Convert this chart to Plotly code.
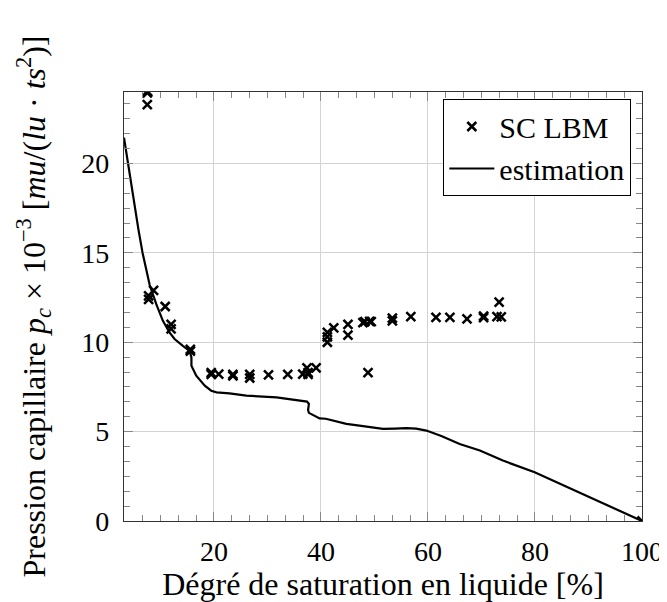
import plotly.graph_objects as go

# SC LBM simulation points
lbm_x = [7.55, 7.55, 7.6, 7.55, 7.8, 7.8, 8.73, 10.9, 12.0, 12.0, 15.6, 15.6,
         19.5, 19.5, 20.9, 23.55, 23.55, 26.7, 26.7, 30.2, 33.8, 36.6, 37.4, 37.6, 37.6, 39.1,
         41.2, 41.2, 41.2, 42.4, 45.05, 45.05, 47.85, 48.2, 49.1, 49.4, 48.8,
         53.35, 53.35, 56.8, 61.5, 64.1, 67.3, 70.4, 70.4, 72.9, 73.7, 73.3, 100.0]
lbm_y = [23.95, 24.05, 24.0, 23.3, 12.4, 12.6, 12.9, 12.0, 11.0, 10.75, 9.5, 9.6,
         8.2, 8.3, 8.22, 8.12, 8.2, 8.0, 8.2, 8.17, 8.2, 8.22, 8.56, 8.2, 8.3, 8.56,
         10.0, 10.3, 10.55, 10.8, 11.0, 10.4, 11.1, 11.15, 11.17, 11.15, 8.3,
         11.2, 11.35, 11.44, 11.39, 11.39, 11.31, 11.38, 11.46, 11.44, 11.42, 12.25, 0.0]

# Estimation curve
est_x = [3.2, 4.2, 5.0, 5.9, 6.67, 7.4, 8.0, 9.23, 10.47, 11.7, 12.65, 14.2, 15.46, 15.8,
         15.8, 16.7, 17.3, 18.3, 19.5, 20.5, 22.9, 26.06, 31.7, 34.2, 36.7, 37.4, 37.75,
         37.6, 37.75, 38.2, 39.76, 40.9, 44.75, 46.5, 50.97, 51.6, 53.8, 55.96, 57.8, 59.7,
         62.5, 65.93, 69.7, 74.0, 79.94, 90.0, 100.0]
est_y = [21.44, 19.5, 17.9, 16.3, 15.0, 13.9, 13.2, 12.13, 11.2, 10.55, 10.18, 9.8, 9.52, 9.15,
         8.69, 8.13, 7.9, 7.57, 7.29, 7.2, 7.14, 7.01, 6.92, 6.83, 6.73, 6.68, 6.55,
         6.21, 6.05, 5.99, 5.74, 5.72, 5.43, 5.36, 5.18, 5.15, 5.17, 5.2, 5.17, 5.06,
         4.75, 4.31, 3.94, 3.38, 2.73, 1.37, 0.0]

x_ticks = [20, 40, 60, 80, 100]
y_ticks = [0, 5, 10, 15, 20]

FONT = "Liberation Serif, DejaVu Serif, serif"
TICK_FS = 28
TITLE_FS = 32
LEG_FS = 30

fig = go.Figure()
fig.add_trace(go.Scatter(
    x=lbm_x, y=lbm_y, mode="markers", name="SC LBM",
    marker=dict(symbol="x-thin", size=9, color="black",
                line=dict(width=2.5, color="black")),
))
fig.add_trace(go.Scatter(
    x=est_x, y=est_y, mode="lines", name="estimation",
    line=dict(color="black", width=2.2),
))

axis_common = dict(
    showline=True, linecolor="#333333", linewidth=1.2, mirror="ticks",
    showgrid=True, gridcolor="#d3d3d3", gridwidth=1.2,
    ticks="inside", ticklen=9, tickcolor="#888888", tickwidth=1,
    zeroline=False, automargin=False,
    tickfont=dict(family=FONT, size=TICK_FS, color="black"),
)

fig.update_xaxes(
    range=[3.2, 100], tickvals=x_ticks, ticktext=[str(v) for v in x_ticks],
    minor=dict(ticks="inside", ticklen=6, tick0=0, dtick=20 / 6, tickcolor="#888888", showgrid=False),
    title=dict(text="Dégré de saturation en liquide [%]",
               font=dict(family=FONT, size=TITLE_FS, color="black"), standoff=8),
    ticklabelstandoff=5,
    **axis_common,
)
fig.update_yaxes(
    range=[0, 24], tickvals=y_ticks, ticktext=[str(v) for v in y_ticks],
    minor=dict(ticks="inside", ticklen=6, tick0=0, dtick=5 / 6, tickcolor="#888888", showgrid=False),
    title=dict(text="Pression capillaire <i>p</i><sub><i>c</i></sub> × 10<sup>−3</sup> "
                    "[<i>mu</i>/(<i>lu</i> · <i>ts</i><sup>2</sup>)]",
               font=dict(family=FONT, size=TITLE_FS, color="black"), standoff=26),
    ticklabelstandoff=8,
    **axis_common,
)

fig.update_layout(
    width=659, height=594,
    margin=dict(l=116, r=25, t=84, b=81),
    paper_bgcolor="white", plot_bgcolor="white",
    showlegend=True,
    legend=dict(
        x=0.979, y=0.983, xanchor="right", yanchor="top",
        bgcolor="white", bordercolor="black", borderwidth=1.2,
        font=dict(family=FONT, size=LEG_FS, color="black"),
        itemwidth=45, tracegroupgap=0,
    ),
)

fig.write_html("out.html")
